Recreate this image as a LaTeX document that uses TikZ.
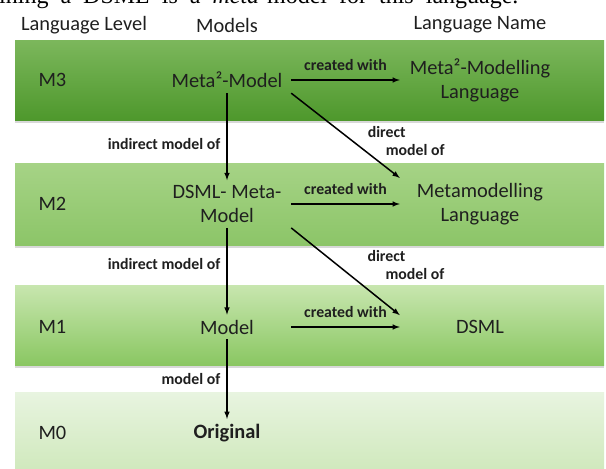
\documentclass[tikz,border=0pt]{standalone}
\usepackage{fontspec}
\setmainfont{Carlito}
\newfontfamily\papertext{Liberation Serif}
\usetikzlibrary{arrows}
\usetikzlibrary{positioning}
\usetikzlibrary{shadows}
\definecolor{mthreetop}{RGB}{124,183,92}
\definecolor{mthreebot}{RGB}{78,152,44}
\definecolor{mtwotop}{RGB}{166,211,134}
\definecolor{mtwobot}{RGB}{140,197,104}
\definecolor{monetop}{RGB}{200,230,175}
\definecolor{monebot}{RGB}{138,199,98}
\definecolor{mzerotop}{RGB}{232,244,224}
\definecolor{mzerobot}{RGB}{206,232,186}

\begin{document}
\begin{tikzpicture}[x=1pt,y=-1pt,
  every node/.style={font=\fontsize{20.4}{24}\selectfont,align=center,text=black!88},
  band/.style={drop shadow={shadow xshift=0pt,shadow yshift=-2.5pt,opacity=0.3}},
  lang/.style={minimum width=160pt,inner sep=5pt},
  model/.style={minimum width=128pt,inner sep=5pt},
  rel/.style={font=\fontsize{15.8}{18}\bfseries\selectfont,inner sep=2pt},
  arr/.style={-latex,line width=1.5pt}]
  \useasboundingbox (0,0) rectangle (606,469);
  \fill[white] (0,0) rectangle (606,469);
  \node[anchor=base west,font=\papertext\fontsize{24}{28}\selectfont,text=black,inner sep=0pt] (cut) at (-1,3) {\spaceskip=12pt plus 2pt\relax ining a DSML is a \textit{meta}-model for this language.};

  \shade[band,top color=mthreetop,bottom color=mthreebot] (15,40) rectangle (604,120);
  \shade[band,top color=mtwotop,bottom color=mtwobot] (15,163) rectangle (604,245);
  \shade[band,top color=monetop,bottom color=monebot] (15,285) rectangle (604,365);
  \shade[band,top color=mzerotop,bottom color=mzerobot] (15,392) rectangle (604,476);

  \node (lvl) at (84,25) {Language Level};
  \node (mods) at (227,25) {Models};
  \node (lname) at (480,25) {Language Name};

  \node[anchor=west] (m3) at (35,80) {M3};
  \node[anchor=west] (m2) at (35,204) {M2};
  \node[anchor=west] (m1) at (35,327) {M1};
  \node[anchor=west] (m0) at (35,433) {M0};

  \node[model] (meta2) at (227,80) {Meta²-Model};
  \node[model] (dsmlmeta) at (227,204) {DSML- Meta-\\Model};
  \node[model] (mdl) at (227,327) {Model};
  \node[model,font=\fontsize{20.4}{24}\bfseries\selectfont] (orig) at (227,433) {Original};

  \node[lang] (meta2lang) at (480,80) {Meta²-Modelling\\Language};
  \node[lang] (metalang) at (480,204) {Metamodelling\\Language};
  \node[lang] (dsml) at (480,327) {DSML};

  \draw[arr](meta2)--node[rel,above=7pt]{created with}(meta2lang);
  \draw[arr](dsmlmeta)--node[rel,above=7pt]{created with}(metalang);
  \draw[arr](mdl)--node[rel,above=7pt]{created with}(dsml);

  \draw[arr](meta2)--node[rel,left=4pt,pos=0.58]{indirect model of}(dsmlmeta);
  \draw[arr](dsmlmeta)--node[rel,left=4pt,pos=0.42]{indirect model of}(mdl);
  \draw[arr](mdl)--node[rel,left=4pt,pos=0.5]{model of}(orig);

  \draw[arr](meta2.south east)--node[rel,right=12pt,pos=0.57,align=left]{direct\\\hspace*{18pt}model of}(metalang.north west);
  \draw[arr](dsmlmeta.south east)--node[rel,right=28pt,pos=0.42,align=left]{direct\\\hspace*{18pt}model of}(dsml.north west);
\end{tikzpicture}
\end{document}
